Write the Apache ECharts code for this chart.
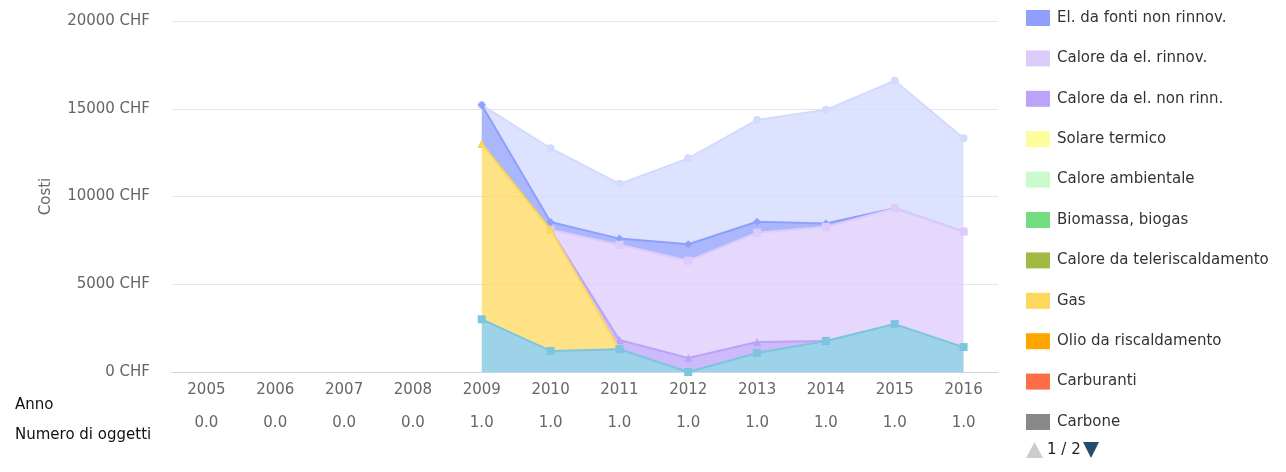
<!DOCTYPE html>
<html>
<head>
<meta charset="utf-8">
<script src="https://cdn.jsdelivr.net/npm/echarts@6/dist/echarts.min.js"></script>
<style>
    html, body { margin: 0; padding: 0; background: #fff; }
    #chart { width: 1286px; height: 472px; }
</style>
</head>
<body>
<div id="chart"></div>
<script>
// anni e numero di oggetti (seconda riga delle etichette)
var anni = ['2005', '2006', '2007', '2008', '2009', '2010', '2011', '2012', '2013', '2014', '2015', '2016'];
var oggetti = ['0.0', '0.0', '0.0', '0.0', '1.0', '1.0', '1.0', '1.0', '1.0', '1.0', '1.0', '1.0'];
var yTicks = [0, 5000, 10000, 15000, 20000];

// costi in CHF, dal basso verso l'alto della pila
var acqua = [null, null, null, null, 3000, 1200, 1300, 0, 1080, 1770, 2730, 1420];
var carbone = [null, null, null, null, null, null, null, null, null, null, null, null];
var carburanti = [null, null, null, null, null, null, null, null, null, null, null, null];
var olio = [null, null, null, null, null, null, null, null, null, null, null, null];
var gas = [null, null, null, null, 10000, 6900, 0, null, null, null, null, null];
var teleriscaldamento = [null, null, null, null, 0, 0, null, null, null, null, null, null];
var biomassa = [null, null, null, null, null, null, null, null, null, null, null, null];
var caloreAmbientale = [null, null, null, null, null, null, null, null, null, null, null, null];
var solare = [null, null, null, null, null, null, null, null, null, null, null, null];
var caloreNonRinn = [null, null, null, null, null, 0, 520, 800, 630, 0, null, null];
var caloreRinnov = [null, null, null, null, null, 0, 5430, 5540, 6230, 6500, 6600, 6580];
var elNonRinnov = [null, null, null, null, 2210, 450, 350, 935, 625, 190, 0, 0];
var elRinnov = [null, null, null, null, 0, 4200, 3120, 4900, 5800, 6480, 7270, 5320];

// pagina 1 della legenda
var legendPage1 = [
    'El. da fonti non rinnov.', 'Calore da el. rinnov.', 'Calore da el. non rinn.',
    'Solare termico', 'Calore ambientale', 'Biomassa, biogas',
    'Calore da teleriscaldamento', 'Gas', 'Olio da riscaldamento',
    'Carburanti', 'Carbone'
];
var legendPager = '1 / 2';

var stackDefs = [
    { name: 'Acqua', data: acqua, color: '#7cc4e0', symbol: 'rect' },
    { name: 'Carbone', data: carbone, color: '#888888', symbol: 'circle' },
    { name: 'Carburanti', data: carburanti, color: '#ff6d47', symbol: 'circle' },
    { name: 'Olio da riscaldamento', data: olio, color: '#fea500', symbol: 'circle' },
    { name: 'Gas', data: gas, color: '#fdd85c', symbol: 'triangle' },
    { name: 'Calore da teleriscaldamento', data: teleriscaldamento, color: '#a2b944', symbol: 'triangle' },
    { name: 'Biomassa, biogas', data: biomassa, color: '#74dd82', symbol: 'circle' },
    { name: 'Calore ambientale', data: caloreAmbientale, color: '#c9fbcc', symbol: 'circle' },
    { name: 'Solare termico', data: solare, color: '#fdfd9b', symbol: 'triangle' },
    { name: 'Calore da el. non rinn.', data: caloreNonRinn, color: '#bba3f8', symbol: 'triangle' },
    { name: 'Calore da el. rinnov.', data: caloreRinnov, color: '#dccbfb', symbol: 'rect' },
    { name: 'El. da fonti non rinnov.', data: elNonRinnov, color: '#8f9ffb', symbol: 'diamond' },
    { name: 'El. da fonti rinnov.', data: elRinnov, color: '#d2dafd', symbol: 'circle' }
];

var series = stackDefs.map(function (d, i) {
    return {
        name: d.name,
        type: 'line',
        stack: 'costi',
        z: 30 - i,
        data: d.data,
        symbol: d.symbol,
        symbolSize: 8,
        showSymbol: true,
        itemStyle: { color: d.color },
        lineStyle: { color: d.color, width: 2 },
        areaStyle: { color: d.color, opacity: 0.75 },
        emphasis: { disabled: true }
    };
});

var myChart = echarts.init(document.getElementById('chart'));
myChart.setOption({
    animation: false,
    textStyle: { fontFamily: 'DejaVu Sans' },
    grid: { left: 172, right: 288, top: 21, bottom: 100 },
    legend: {
        orient: 'vertical',
        left: 1026,
        top: 10,
        padding: 0,
        itemWidth: 24,
        itemHeight: 16,
        itemGap: 24.4,
        icon: 'rect',
        selectedMode: false,
        data: legendPage1,
        textStyle: { color: '#333', fontSize: 15, padding: [0, 0, 0, 2] }
    },
    xAxis: {
        type: 'category',
        data: anni,
        boundaryGap: true,
        axisLine: { lineStyle: { color: '#ccd6eb' } },
        axisTick: { alignWithLabel: true, length: 10, lineStyle: { color: '#ccd6eb' } },
        axisLabel: {
            color: '#666',
            fontSize: 15,
            lineHeight: 33,
            margin: 2,
            formatter: function (v, i) {
                return v + '\n' + oggetti[i];
            }
        }
    },
    yAxis: {
        type: 'value',
        min: yTicks[0],
        max: yTicks[yTicks.length - 1],
        interval: 5000,
        name: 'Costi',
        nameLocation: 'middle',
        nameGap: 118,
        nameTextStyle: { color: '#666', fontSize: 15 },
        axisLine: { show: false },
        axisTick: { show: false },
        splitLine: { lineStyle: { color: '#e6e6e6' } },
        axisLabel: {
            color: '#666',
            fontSize: 15,
            margin: 22,
            formatter: function (v) { return v + ' CHF'; }
        }
    },
    graphic: [
        { type: 'text', left: 15, top: 398, style: { text: 'Anno', fill: '#111', font: '15px DejaVu Sans' } },
        { type: 'text', left: 15, top: 428, style: { text: 'Numero di oggetti', fill: '#111', font: '15px DejaVu Sans' } },
        // navigazione della legenda
        { type: 'polygon', shape: { points: [[1026, 458], [1034.5, 442], [1043, 458]] }, style: { fill: '#cccccc' } },
        { type: 'text', left: 1047, top: 443, style: { text: legendPager, fill: '#222', font: '15px DejaVu Sans' } },
        { type: 'polygon', shape: { points: [[1083, 442], [1099, 442], [1091, 458]] }, style: { fill: '#274b6d' } }
    ],
    series: series
});
</script>
</body>
</html>
